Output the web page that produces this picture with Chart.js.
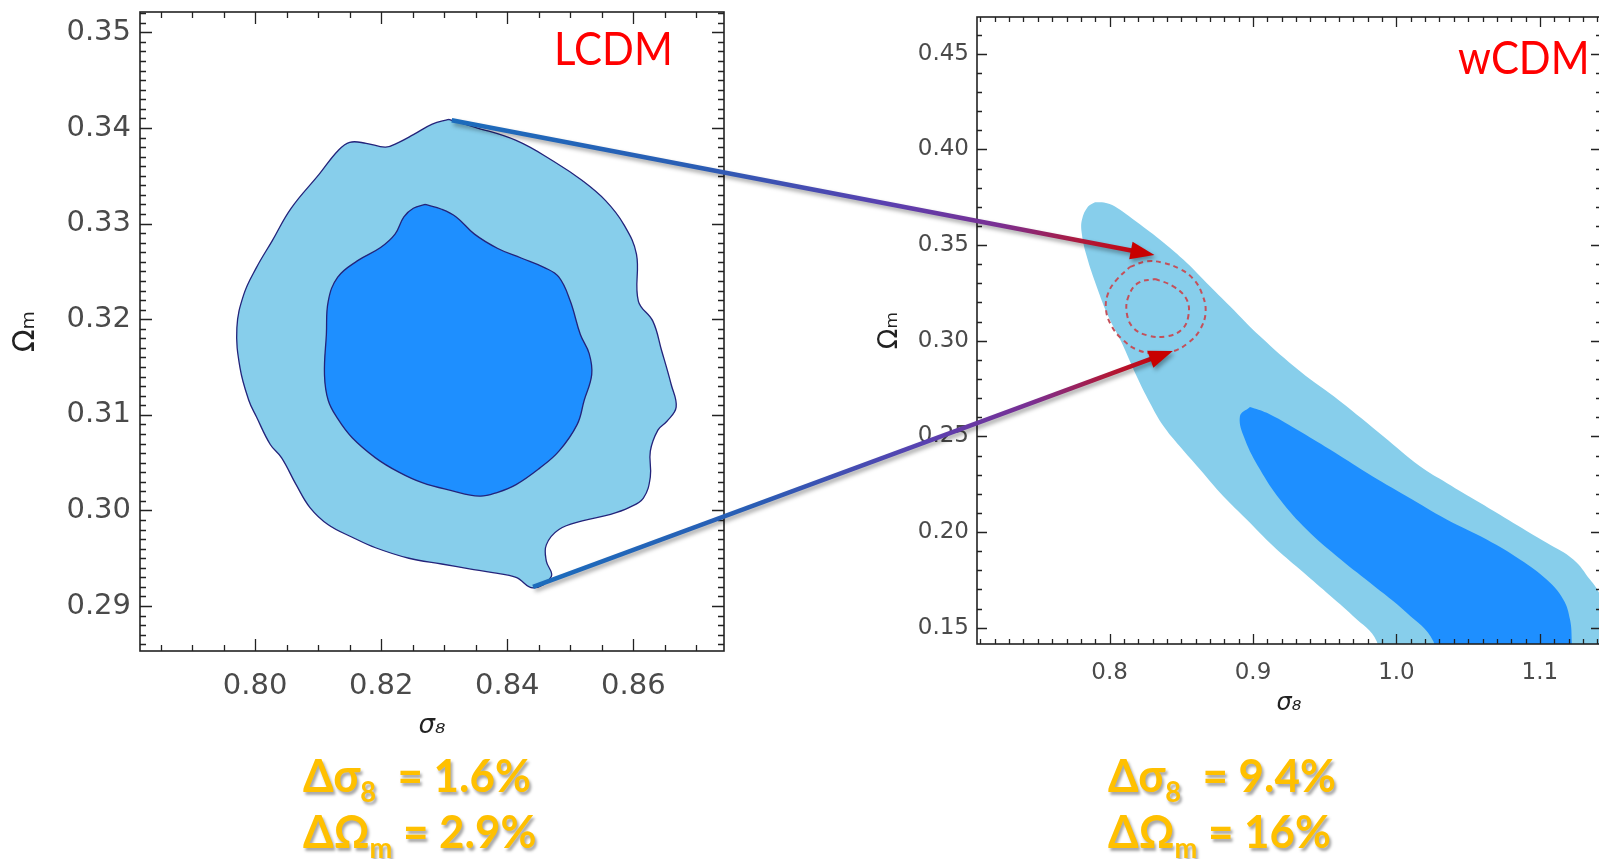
<!DOCTYPE html>
<html><head><meta charset="utf-8">
<script src="https://cdn.jsdelivr.net/npm/chart.js@4.4.0/dist/chart.umd.min.js"></script>
<style>
html,body{margin:0;padding:0;background:#fff;width:1599px;height:859px;overflow:hidden;position:relative;}
canvas{position:absolute;}
#c1{left:0;top:0;}
#c2{left:850px;top:0;}
#arrows{left:0;top:0;pointer-events:none;}
.model{position:absolute;font-family:Lato,'Open Sans',sans-serif;color:#ff0000;font-size:46px;line-height:46px;white-space:nowrap;transform:scaleX(0.91);transform-origin:0 0;}
.delta{position:absolute;font-family:Lato,'Open Sans',sans-serif;font-weight:700;color:#FFC000;font-size:46px;line-height:56px;text-shadow:2px 3px 3px rgba(0,0,0,0.35);white-space:pre;transform:scaleX(0.955);transform-origin:0 0;}
.delta sub{font-size:62%;vertical-align:-0.35em;line-height:0;}
</style></head><body>
<canvas id="c1" width="740" height="740"></canvas>
<canvas id="c2" width="760" height="720"></canvas>
<canvas id="arrows" width="1599" height="859"></canvas>
<div class="model" style="left:554px;top:25px">LCDM</div>
<div class="model" style="left:1458px;top:34px">wCDM</div>
<div class="delta" style="left:303px;top:747px">Δσ<sub>8</sub>  = 1.6%
ΔΩ<sub>m</sub> = 2.9%</div>
<div class="delta" style="left:1108px;top:747px">Δσ<sub>8</sub>  = 9.4%
ΔΩ<sub>m</sub> = 16%</div>
<script>
// ---------- data ----------
// LCDM (left panel) contours: sigma8 and Omega_m
const lcdmOuterS8 = [0.8307,0.8348,0.8414,0.8474,0.8519,0.8556,0.8585,0.8605,0.8608,0.8631,0.8645,0.8660,0.8668,0.8653,0.8639,0.8627,0.8627,0.8616,0.8593,0.8564,0.8519,0.8482,0.8462,0.8462,0.8470,0.8441,0.8414,0.8377,0.8340,0.8296,0.8244,0.8191,0.8154,0.8116,0.8087,0.8065,0.8042,0.8024,0.8002,0.7990,0.7976,0.7971,0.7982,0.8002,0.8027,0.8057,0.8102,0.8131,0.8150,0.8176,0.8207,0.8228,0.8251,0.8281];
const lcdmOuterOm = [0.3409,0.3401,0.3387,0.3365,0.3345,0.3324,0.3299,0.3268,0.3219,0.3198,0.3167,0.3132,0.3108,0.3093,0.3084,0.3062,0.3035,0.3013,0.3003,0.2996,0.2989,0.2980,0.2964,0.2947,0.2931,0.2919,0.2930,0.2935,0.2939,0.2944,0.2950,0.2961,0.2972,0.2985,0.3003,0.3027,0.3055,0.3069,0.3098,0.3115,0.3149,0.3191,0.3226,0.3254,0.3282,0.3316,0.3352,0.3376,0.3385,0.3384,0.3380,0.3385,0.3393,0.3404];
const lcdmInnerS8 = [0.8270,0.8296,0.8319,0.8348,0.8385,0.8422,0.8459,0.8482,0.8500,0.8516,0.8530,0.8534,0.8522,0.8511,0.8482,0.8451,0.8414,0.8385,0.8356,0.8310,0.8265,0.8228,0.8191,0.8154,0.8131,0.8116,0.8110,0.8113,0.8116,0.8131,0.8162,0.8199,0.8222,0.8236,0.8251];
const lcdmInnerOm = [0.3320,0.3315,0.3307,0.3289,0.3274,0.3264,0.3254,0.3244,0.3219,0.3184,0.3164,0.3142,0.3115,0.3090,0.3062,0.3044,0.3027,0.3019,0.3015,0.3021,0.3029,0.3040,0.3055,0.3076,0.3096,0.3115,0.3142,0.3184,0.3219,0.3244,0.3261,0.3275,0.3289,0.3307,0.3316];
// LCDM contours as redrawn (dashed) in the wCDM panel
const lcdmDashOuterS8 = [0.8143,0.8259,0.8375,0.8491,0.8584,0.8642,0.8670,0.8631,0.8549,0.8444,0.8317,0.8189,0.8085,0.8015,0.7975,0.7991,0.8050];
const lcdmDashOuterOm = [0.3386,0.3415,0.3407,0.3375,0.3323,0.3250,0.3154,0.3058,0.2989,0.2945,0.2933,0.2954,0.3010,0.3076,0.3163,0.3250,0.3319];
const lcdmDashInnerS8 = [0.8317,0.8444,0.8538,0.8549,0.8503,0.8398,0.8270,0.8166,0.8120,0.8132,0.8200];
const lcdmDashInnerOm = [0.3323,0.3284,0.3215,0.3128,0.3058,0.3023,0.3027,0.3067,0.3145,0.3232,0.3302];
// wCDM (right panel) contours
const wcdmOuterS8 = [0.7899,0.7961,0.8038,0.8166,0.8352,0.8514,0.8677,0.8840,0.9049,0.9328,0.9607,0.9908,1.0164,1.0350,1.0582,1.0815,1.1047,1.1233,1.1349,1.1412,1.1489,1.1558,1.1558,0.9955,0.9862,0.9699,0.9514,0.9328,0.9142,0.8956,0.8793,0.8631,0.8491,0.8373,0.8282,0.8189,0.8085,0.7991,0.7910,0.7841,0.7806,0.7808,0.7850];
const wcdmOuterOm = [0.3724,0.3722,0.3701,0.3633,0.3528,0.3424,0.3302,0.3180,0.3023,0.2840,0.2684,0.2501,0.2344,0.2257,0.2153,0.2048,0.1944,0.1857,0.1752,0.1684,0.1543,0.1334,0.1125,0.1125,0.1430,0.1560,0.1683,0.1804,0.1926,0.2066,0.2187,0.2327,0.2447,0.2557,0.2675,0.2814,0.2989,0.3128,0.3284,0.3441,0.3563,0.3633,0.3701];
const wcdmInnerS8 = [0.8979,0.9096,0.9305,0.9537,0.9793,1.0071,1.0350,1.0629,1.0861,1.1047,1.1163,1.1210,1.1222,1.1224,1.0304,1.0257,1.0071,0.9816,0.9584,0.9374,0.9188,0.9049,0.8944,0.8909];
const wcdmInnerOm = [0.2654,0.2623,0.2536,0.2431,0.2310,0.2187,0.2066,0.1961,0.1857,0.1752,0.1648,0.1543,0.1430,0.1230,0.1230,0.1430,0.1578,0.1735,0.1874,0.2013,0.2170,0.2327,0.2484,0.2605];
// arrows: start in LCDM panel, end in wCDM panel
const arrowStartS8 = [0.8312, 0.8441];
const arrowStartOm = [0.3408, 0.2920];
const arrowEndS8 = [0.8313, 0.8441];
const arrowEndOm = [0.3448, 0.2947];
// tick labels
const leftXTicks = [0.80, 0.82, 0.84, 0.86];
const leftYTicks = [0.29, 0.30, 0.31, 0.32, 0.33, 0.34, 0.35];
const rightXTicks = [0.8, 0.9, 1.0, 1.1];
const rightYTicks = [0.15, 0.20, 0.25, 0.30, 0.35, 0.40, 0.45];

// ---------- helpers ----------
function pts(xs, ys){ const p = xs.map((x,i)=>({x:x, y:ys[i]})); p.push({x:xs[0], y:ys[0]}); return p; }

const framePlugin = {
  id:'frame',
  afterDraw(chart, args, o){
    const {ctx, chartArea:a, scales:{x, y}} = chart;
    ctx.save();
    ctx.strokeStyle = o.color; ctx.lineWidth = o.width;
    ctx.strokeRect(a.left, a.top, a.right-a.left, a.bottom-a.top);
    function vals(min, max, step){
      const out=[]; const k0=Math.ceil(min/step-1e-9), k1=Math.floor(max/step+1e-9);
      for(let k=k0;k<=k1;k++) out.push(k*step); return out;
    }
    function isMajor(v, m){ const r=v/m; return Math.abs(r-Math.round(r))<1e-6; }
    ctx.beginPath();
    vals(x.min, x.max, o.xMinor).forEach(v=>{
      const px = Math.round(x.getPixelForValue(v))+0.5;
      const L = isMajor(v,o.xMajor)?o.majorLen:o.minorLen;
      ctx.moveTo(px, a.bottom); ctx.lineTo(px, a.bottom-L);
      ctx.moveTo(px, a.top); ctx.lineTo(px, a.top+L);
    });
    vals(y.min, y.max, o.yMinor).forEach(v=>{
      const py = Math.round(y.getPixelForValue(v))+0.5;
      const L = isMajor(v,o.yMajor)?o.majorLen:o.minorLen;
      ctx.moveTo(a.left, py); ctx.lineTo(a.left+L, py);
      ctx.moveTo(a.right, py); ctx.lineTo(a.right-L, py);
    });
    ctx.lineWidth = o.tickWidth;
    ctx.stroke();
    ctx.restore();
  }
};

function axis(min, max, tickVals, fmt, tickFont, pad, titleText, titleFont, titlePad, size, isX){
  return {
    type:'linear', min:min, max:max, bounds:'data', position: isX?'bottom':'left',
    afterBuildTicks: s => { s.ticks = tickVals.map(v=>({value:v})); },
    afterFit: s => {
      if(isX){ s.height = size; s.paddingLeft = 0; s.paddingRight = 0; }
      else { s.width = size; s.paddingTop = 0; s.paddingBottom = 0; }
    },
    grid:{display:false, drawTicks:false}, border:{display:false},
    ticks:{autoSkip:false, maxRotation:0, minRotation:0, padding:pad, color:'#4a4a4a', font:tickFont, callback: v => fmt(v)},
    title:{display:true, text:titleText, color:'#222', font:titleFont, padding:titlePad}
  };
}
function area(data, fillColor, lineColor, lw){
  return {data:data, backgroundColor:fillColor, borderColor:lineColor, borderWidth:lw, fill:'shape',
    tension:0.4, capBezierPoints:false, pointRadius:0, clip:0};
}
function dashed(data){
  return {data:data, borderColor:'#C4505A', borderWidth:2, borderDash:[5,4], fill:false,
    tension:0.4, capBezierPoints:false, pointRadius:0, clip:0};
}
const common = {
  responsive:false, animation:false, events:[],
  plugins:{legend:{display:false}, tooltip:{enabled:false}}
};
const f2 = v => Number(v).toFixed(2), f1 = v => Number(v).toFixed(1);

// ---------- left chart (LCDM) ----------
const chart1 = new Chart(document.getElementById('c1'), {
  type:'line',
  data:{datasets:[
    area(pts(lcdmInnerS8, lcdmInnerOm), '#1E8FFF', '#23237A', 1.3),
    area(pts(lcdmOuterS8, lcdmOuterOm), '#87CEEB', '#23237A', 1.3)
  ]},
  options:Object.assign({}, common, {
    layout:{padding:{top:12, right:16, left:0, bottom:0}},
    scales:{
      x: axis(0.78173, 0.87439, leftXTicks, f2, {family:'DejaVu Sans', size:29}, 18, 'σ₈', {family:'DejaVu Sans', size:26, style:'italic', lineHeight:1}, {bottom:1}, 89, true),
      y: axis(0.28530, 0.35213, leftYTicks, f2, {family:'DejaVu Sans', size:29}, 9, 'Ωₘ', {family:'DejaVu Sans', size:30, lineHeight:1}, {top:11}, 140, false)
    },
    plugins:Object.assign({}, common.plugins, {frame:{color:'#222', width:1.6, tickWidth:1.3, xMajor:0.02, xMinor:0.005, yMajor:0.01, yMinor:0.001, majorLen:12, minorLen:6}})
  }),
  plugins:[framePlugin]
});

// ---------- right chart (wCDM) ----------
const chart2 = new Chart(document.getElementById('c2'), {
  type:'line',
  data:{datasets:[
    dashed(pts(lcdmDashInnerS8, lcdmDashInnerOm)),
    dashed(pts(lcdmDashOuterS8, lcdmDashOuterOm)),
    area(pts(wcdmInnerS8, wcdmInnerOm), '#1E8FFF', 'rgba(0,0,0,0)', 0),
    area(pts(wcdmOuterS8, wcdmOuterOm), '#87CEEB', 'rgba(0,0,0,0)', 0)
  ]},
  options:Object.assign({}, common, {
    layout:{padding:{top:17, right:9, left:0, bottom:0}},
    scales:{
      x: axis(0.7076, 1.1426, rightXTicks, f1, {family:'DejaVu Sans', size:23}, 15, 'σ₈', {family:'DejaVu Sans', size:24, style:'italic', lineHeight:1}, {bottom:4}, 76, true),
      y: axis(0.1415, 0.4692, rightYTicks, f2, {family:'DejaVu Sans', size:23}, 8, 'Ωₘ', {family:'DejaVu Sans', size:27, lineHeight:1}, {top:26}, 127, false)
    },
    plugins:Object.assign({}, common.plugins, {frame:{color:'#222', width:1.6, tickWidth:1.3, xMajor:0.1, xMinor:0.01, yMajor:0.05, yMinor:0.01, majorLen:10, minorLen:5}})
  }),
  plugins:[framePlugin]
});

// ---------- arrows linking the panels ----------
function drawArrows(){
  const cv = document.getElementById('arrows');
  const ctx = cv.getContext('2d');
  const o1 = document.getElementById('c1').offsetLeft, o2 = document.getElementById('c2').offsetLeft;
  for(let i=0;i<arrowStartS8.length;i++){
    const sx = chart1.scales.x.getPixelForValue(arrowStartS8[i]) + o1;
    const sy = chart1.scales.y.getPixelForValue(arrowStartOm[i]);
    const ex = chart2.scales.x.getPixelForValue(arrowEndS8[i]) + o2;
    const ey = chart2.scales.y.getPixelForValue(arrowEndOm[i]);
    const ang = Math.atan2(ey-sy, ex-sx), c=Math.cos(ang), s=Math.sin(ang);
    const headLen = 24, headW = 9;
    const bx = ex - headLen*c, by = ey - headLen*s;
    const g = ctx.createLinearGradient(sx, sy, ex, ey);
    g.addColorStop(0, '#1C6CBC'); g.addColorStop(0.35, '#2A5DB4'); g.addColorStop(0.62, '#5A40B0');
    g.addColorStop(0.78, '#7A2F92'); g.addColorStop(0.9, '#B01838'); g.addColorStop(1, '#CC0000');
    ctx.save();
    ctx.shadowColor='rgba(0,0,0,0.35)'; ctx.shadowBlur=4; ctx.shadowOffsetX=2; ctx.shadowOffsetY=3;
    ctx.strokeStyle = g; ctx.lineWidth = 4.5; ctx.lineCap='butt';
    ctx.beginPath(); ctx.moveTo(sx, sy); ctx.lineTo(bx + 3*c, by + 3*s); ctx.stroke();
    ctx.fillStyle = '#C80000';
    ctx.beginPath(); ctx.moveTo(ex, ey);
    ctx.lineTo(bx - headW*s, by + headW*c);
    ctx.lineTo(bx + headW*s, by - headW*c);
    ctx.closePath(); ctx.fill();
    ctx.restore();
  }
}
drawArrows();
</script>
</body></html>
